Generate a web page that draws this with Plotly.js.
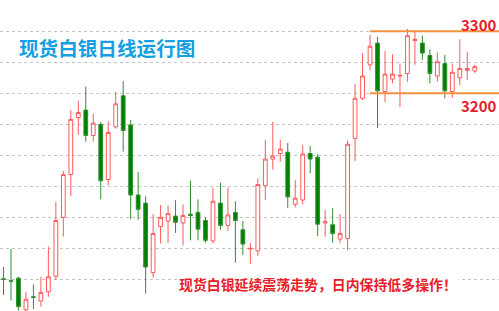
<!DOCTYPE html>
<html>
<head>
<meta charset="utf-8">
<script src="https://cdn.plot.ly/plotly-3.0.1.min.js"></script>
<style>
  html, body { margin: 0; padding: 0; background: #ffffff; }
  #chart { width: 499px; height: 311px; }
</style>
</head>
<body>
<div id="chart"></div>
<script>
// Spot silver daily candles (trading-day index)
const days = [1, 2, 3, 4, 5, 6, 7, 8, 9, 10, 11, 12, 13, 14, 15, 16,
  17, 18, 19, 20, 21, 22, 23, 24, 25, 26, 27, 28, 29, 30, 31, 32,
  33, 34, 35, 36, 37, 38, 39, 40, 41, 42, 43, 44, 45, 46, 47, 48,
  49, 50, 51, 52, 53, 54, 55, 56, 57, 58, 59, 60, 61, 62, 63, 64];

const openPx = [2901, 2898, 2902, 2851, 2872, 2865, 2880, 2905, 3000, 3069, 3161, 3173, 3132, 3150, 3061, 3146,
  3196, 3149, 3036, 3023, 2911, 2985, 2994, 3002, 2991, 3005, 3008, 2995, 2962, 3023, 2987, 3008,
  2980, 2949, 2946, 3051, 3094, 3103, 3105, 3021, 3028, 3103, 3097, 2991, 2988, 2965, 2966, 3127,
  3192, 3246, 3281, 3203, 3223, 3228, 3232, 3285, 3281, 3261, 3228, 3248, 3203, 3225, 3237, 3236];

const highPx = [2920, 2949, 2904, 2880, 2892, 2904, 2953, 3025, 3075, 3173, 3188, 3211, 3167, 3154, 3155, 3202,
  3220, 3157, 3073, 3034, 3005, 3020, 3019, 3028, 3021, 3059, 3029, 3000, 3048, 3056, 3048, 3026,
  2994, 2959, 3063, 3125, 3154, 3125, 3120, 3060, 3117, 3115, 3102, 3012, 3015, 3005, 3124, 3215,
  3265, 3294, 3291, 3268, 3263, 3248, 3304, 3302, 3293, 3271, 3266, 3262, 3248, 3287, 3267, 3246];

const lowPx = [2875, 2866, 2850, 2845, 2852, 2856, 2872, 2899, 2969, 3034, 3133, 3122, 3122, 3029, 3052, 3143,
  3106, 2997, 2996, 2877, 2903, 2958, 2959, 2975, 2955, 2963, 2963, 2959, 2958, 2980, 2978, 2927,
  2939, 2925, 2938, 3028, 3077, 3090, 3015, 3016, 3021, 3071, 2970, 2969, 2959, 2959, 2947, 3091,
  3189, 3237, 3144, 3186, 3216, 3178, 3219, 3246, 3254, 3216, 3219, 3192, 3193, 3213, 3222, 3233];

const closePx = [2900, 2897, 2856, 2868, 2871, 2879, 2904, 2995, 3069, 3158, 3169, 3132, 3152, 3059, 3137, 3183,
  3140, 3036, 3013, 2920, 2974, 3000, 3006, 2992, 3003, 3003, 2981, 2963, 3026, 2987, 3004, 2995,
  2957, 2950, 3053, 3094, 3099, 3110, 3033, 3031, 3102, 3094, 2989, 2993, 2974, 2974, 3118, 3192,
  3228, 3276, 3204, 3231, 3231, 3229, 3293, 3287, 3265, 3232, 3251, 3204, 3234, 3240, 3240, 3243];

// Range band levels and their labels
const bandLevels = [3300, 3200];
const bandLabels = ['3300', '3200'];

const chartTitle = '现货白银日线运行图';
const noteText = '现货白银延续震荡走势，日内保持低多操作！';

const gridVals = [2850, 2900, 2950, 3000, 3050, 3100, 3150, 3200, 3250, 3300];

const cjk = '"Noto Sans CJK SC", "Noto Sans", sans-serif';

const trace = {
  type: 'candlestick',
  x: days,
  open: openPx,
  high: highPx,
  low: lowPx,
  close: closePx,
  increasing: { line: { color: '#ff5a5a', width: 1 }, fillcolor: '#ffffff' },
  decreasing: { line: { color: '#2f8f2f', width: 1 }, fillcolor: '#008000' },
  whiskerwidth: 0,
  hoverinfo: 'none'
};

const bandStart = 50;
const shapes = bandLevels.map(v => ({
  type: 'line', xref: 'x', yref: 'y',
  x0: bandStart, x1: 70, y0: v, y1: v,
  line: { color: '#f7913c', width: 2 }
}));

const annotations = [
  {
    text: chartTitle, xref: 'paper', yref: 'paper',
    x: 0.034, y: 0.846, xanchor: 'left', yanchor: 'middle', showarrow: false,
    font: { family: cjk, size: 19.6, color: '#149fe3', weight: 700 }
  },
  {
    text: noteText, xref: 'paper', yref: 'paper',
    x: 0.354, y: 0.088, xanchor: 'left', yanchor: 'middle', showarrow: false,
    bgcolor: '#ffffff',
    font: { family: cjk, size: 13.9, color: '#e8202a', weight: 700 }
  },
  {
    text: bandLabels[0], xref: 'paper', yref: 'paper',
    x: 0.96, y: 0.92, xanchor: 'center', yanchor: 'middle', showarrow: false,
    font: { family: cjk, size: 15, color: '#e8202a', weight: 700 }
  },
  {
    text: bandLabels[1], xref: 'paper', yref: 'paper',
    x: 0.96, y: 0.661, xanchor: 'center', yanchor: 'middle', showarrow: false,
    font: { family: cjk, size: 15, color: '#e8202a', weight: 700 }
  }
];

const layout = {
  width: 499, height: 311,
  margin: { l: 0, r: 0, t: 0, b: 0, pad: 0 },
  paper_bgcolor: '#ffffff',
  plot_bgcolor: '#ffffff',
  showlegend: false,
  boxgap: 0.28,
  xaxis: {
    range: [0.532, 67.24],
    showgrid: false, zeroline: false, showline: false,
    showticklabels: false, ticks: '',
    rangeslider: { visible: false },
    fixedrange: true
  },
  yaxis: {
    range: [2849, 3350.5],
    tickmode: 'array', tickvals: gridVals,
    showgrid: true, gridcolor: '#c4c4c4', griddash: 'dot', gridwidth: 1,
    zeroline: false, showline: false, showticklabels: false, ticks: '',
    fixedrange: true
  },
  shapes: shapes,
  annotations: annotations
};

Plotly.newPlot('chart', [trace], layout, { displayModeBar: false, staticPlot: true });
</script>
</body>
</html>
